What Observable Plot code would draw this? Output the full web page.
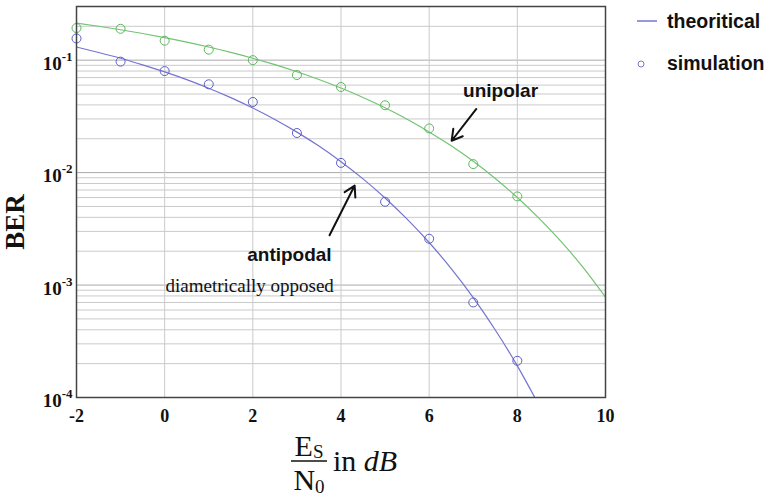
<!DOCTYPE html>
<html>
<head>
<meta charset="utf-8">
<script src="https://cdn.jsdelivr.net/npm/d3@7"></script>
<script src="https://cdn.jsdelivr.net/npm/@observablehq/plot@0.6"></script>
<style>
  html, body { margin: 0; padding: 0; background: #fff; }
  #chart svg { display: block; }
</style>
</head>
<body>
<div id="chart"></div>
<script>
// ---- data ----
const theoryX = [-2, -1.5, -1, -0.5, 0, 0.5, 1, 1.5, 2, 2.5, 3, 3.5, 4, 4.5, 5, 5.5, 6, 6.5, 7, 7.5, 8, 8.5, 9, 9.5, 10];
const antipodalTheory = [0.131, 0.117, 0.104, 0.0909, 0.0786, 0.0671, 0.0563, 0.0464, 0.0375, 0.0297, 0.0229, 0.0172, 0.0125, 0.0088, 0.00595, 0.00386, 0.00239, 0.0014, 0.000773, 0.000398, 0.000191, 0.000084, null, null, null];
const unipolarTheory = [0.2136, 0.2001, 0.1864, 0.1726, 0.1587, 0.1448, 0.1309, 0.1172, 0.104, 0.0912, 0.0789, 0.0673, 0.0565, 0.0466, 0.0377, 0.0298, 0.023, 0.0173, 0.0126, 0.00887, 0.006, 0.0039, 0.00242, 0.00142, 0.00078];

const simX = [-2, -1, 0, 1, 2, 3, 4, 5, 6, 7, 8];
const antipodalSim = [0.156, 0.097, 0.080, 0.061, 0.0425, 0.0225, 0.0122, 0.0055, 0.00258, 0.0007, 0.000212];
const unipolarSim = [0.193, 0.19, 0.149, 0.124, 0.1, 0.0737, 0.0577, 0.0397, 0.0247, 0.0119, 0.00614];

const xTicks = [-2, 0, 2, 4, 6, 8, 10];
const yTicks = [1e-4, 1e-3, 1e-2, 1e-1];
const yMinor = [];
for (const d of [1e-4, 1e-3, 1e-2, 1e-1]) for (let k = 2; k <= 9; k++) if (k * d <= 0.3) yMinor.push(k * d);

const legendLabels = ["theoritical", "simulation"];
const annotLabels = ["unipolar", "antipodal", "diametrically opposed"];

// ---- tables ----
const theory = [];
theoryX.forEach((x, i) => {
  if (antipodalTheory[i] != null) theory.push({x, y: antipodalTheory[i], s: "antipodal"});
  theory.push({x, y: unipolarTheory[i], s: "unipolar"});
});
const sim = [];
simX.forEach((x, i) => {
  sim.push({x, y: antipodalSim[i], s: "antipodal"});
  sim.push({x, y: unipolarSim[i], s: "unipolar"});
});

const blueLine = "#7474d2", greenLine = "#72c472";
const blueDot = "#5e5ec8", greenDot = "#5cb85c";

const annotations = [
  {x: 7.62, y: 0.053, text: annotLabels[0], weight: "bold"},
  {x: 2.83, y: 0.00184, text: annotLabels[1], weight: "bold"},
  {x: 0.02, y: 0.00098, text: annotLabels[2], weight: "normal"}
];
const arrows = [
  {x1: 7.07, y1: 0.0368, x2: 6.51, y2: 0.0192},
  {x1: 3.74, y1: 0.00277, x2: 4.31, y2: 0.00767}
];

const chart = Plot.plot({
  width: 770,
  height: 500,
  marginLeft: 76,
  marginTop: 6,
  marginRight: 165,
  marginBottom: 103,
  style: {fontFamily: "Liberation Serif", background: "#fff"},
  x: {domain: [-2, 10], ticks: xTicks, tickSize: 0, tickPadding: 12, tickFormat: d => String(d), label: null},
  y: {type: "log", domain: [1e-4, 0.3], ticks: yTicks, tickSize: 0, tickPadding: 4,
      tickFormat: d => String(Math.round(Math.log10(d))), label: null},
  marks: [
    Plot.ruleY(yMinor, {stroke: "#cacaca", strokeWidth: 1}),
    Plot.ruleY(yTicks, {stroke: "#aaaaaa", strokeWidth: 1}),
    Plot.ruleX(xTicks, {stroke: "#cacaca", strokeWidth: 1}),
    Plot.line(theory.filter(d => d.s === "unipolar"), {x: "x", y: "y", stroke: greenLine, strokeWidth: 1.2, curve: "natural"}),
    Plot.line(theory.filter(d => d.s === "antipodal"), {x: "x", y: "y", stroke: blueLine, strokeWidth: 1.2, curve: "natural", clip: true}),
    Plot.dot(sim.filter(d => d.s === "unipolar"), {x: "x", y: "y", r: 4.5, stroke: greenDot, fill: "none", strokeWidth: 1}),
    Plot.dot(sim.filter(d => d.s === "antipodal"), {x: "x", y: "y", r: 4.5, stroke: blueDot, fill: "none", strokeWidth: 1}),
    Plot.arrow(arrows, {x1: "x1", y1: "y1", x2: "x2", y2: "y2", stroke: "#111", strokeWidth: 2, headLength: 9}),
    Plot.text(annotations.filter(d => d.weight === "bold"), {x: "x", y: "y", text: "text", fontFamily: "Liberation Sans", fontWeight: "bold", fontSize: 19, fill: "#111", textAnchor: "middle"}),
    Plot.text(annotations.filter(d => d.weight !== "bold"), {x: "x", y: "y", text: "text", fontFamily: "Liberation Serif", fontSize: 19, fill: "#111", textAnchor: "start"}),
    Plot.frame({stroke: "#444", strokeWidth: 1.5})
  ]
});

document.getElementById("chart").appendChild(chart);
const svg = d3.select(chart);

// y tick labels with superscripts
svg.selectAll('g[aria-label="y-axis tick label"]').attr("font-size", 19).attr("font-weight", "bold").attr("fill", "#111");
svg.selectAll('g[aria-label="y-axis tick label"] text').each(function() {
  const t = d3.select(this);
  const e = t.text();
  t.text("10").attr("dy", "0.2em");
  t.append("tspan").attr("dy", "-0.7em").attr("font-size", "13px").text(e);
});
svg.selectAll('g[aria-label="x-axis tick label"]').attr("font-size", 18).attr("font-weight", "bold").attr("fill", "#111");

// Y axis title
svg.append("text")
  .attr("transform", "translate(24,222) rotate(-90)")
  .attr("text-anchor", "middle")
  .attr("font-family", "Liberation Serif").attr("font-weight", "bold").attr("font-size", 27)
  .attr("fill", "#111")
  .text("BER");

// X axis title: Es/N0 in dB
const xl = svg.append("g").attr("font-family", "Liberation Serif").attr("fill", "#111");
const num = xl.append("text").attr("x", 309).attr("y", 456).attr("text-anchor", "middle").attr("font-size", 30);
num.append("tspan").text("E");
num.append("tspan").attr("font-size", 19).attr("dy", 2).text("S");
xl.append("line").attr("x1", 291).attr("x2", 327).attr("y1", 461).attr("y2", 461).attr("stroke", "#111").attr("stroke-width", 1.3);
const den = xl.append("text").attr("x", 309).attr("y", 490).attr("text-anchor", "middle").attr("font-size", 30);
den.append("tspan").text("N");
den.append("tspan").attr("font-size", 19).attr("dy", 3).text("0");
const tail = xl.append("text").attr("x", 333).attr("y", 471).attr("text-anchor", "start").attr("font-size", 30);
tail.append("tspan").text("in ");
tail.append("tspan").attr("font-style", "italic").text("dB");

// Legend
const lg = svg.append("g").attr("font-family", "Liberation Sans").attr("font-weight", "bold").attr("font-size", 19.5).attr("fill", "#111").attr("text-anchor", "start");
lg.append("line").attr("x1", 637).attr("x2", 657).attr("y1", 21).attr("y2", 21).attr("stroke", blueLine).attr("stroke-width", 1.5);
lg.append("text").attr("x", 667).attr("y", 21).attr("dy", "0.35em").text(legendLabels[0]);
lg.append("circle").attr("cx", 641).attr("cy", 64).attr("r", 3).attr("fill", "none").attr("stroke", "#7b7bd0").attr("stroke-width", 1);
lg.append("text").attr("x", 667).attr("y", 63).attr("dy", "0.35em").text(legendLabels[1]);
</script>
</body>
</html>
